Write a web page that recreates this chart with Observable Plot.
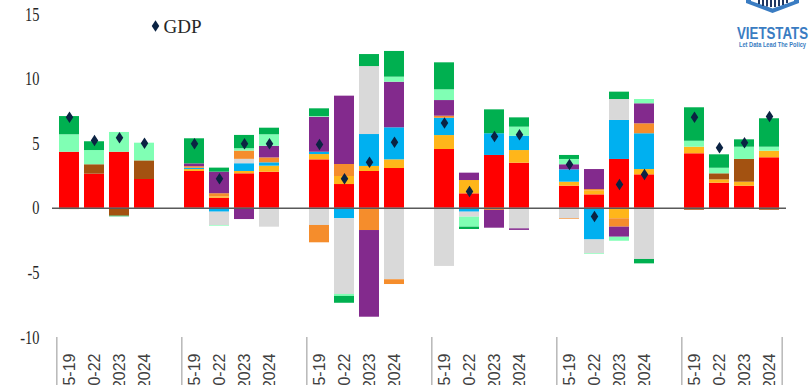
<!DOCTYPE html>
<html>
<head>
<meta charset="utf-8">
<script src="https://cdn.jsdelivr.net/npm/d3@7"></script>
<script src="https://cdn.jsdelivr.net/npm/@observablehq/plot@0.6"></script>
<style>
  html, body { margin: 0; padding: 0; background: #fff; }
  #wrap { position: relative; width: 810px; height: 385px; overflow: hidden; }
  #logo { position: absolute; left: 735px; top: 0; }
</style>
</head>
<body>
<div id="wrap">
  <div id="chart"></div>
  <svg id="logo" width="75" height="50" viewBox="735 0 75 50">
    <polygon points="746,-5 746,3 772.5,13 799,3 799,-5" fill="#3A7CC2"/>
    <polygon points="751,-5 751,1 772.5,8.5 794,1 794,-5" fill="#fff"/>
    <g fill="#1F3864">
      <rect x="758" y="0" width="2" height="4"/>
      <rect x="762" y="0" width="2" height="6"/>
      <rect x="766" y="0" width="2" height="6.5"/>
      <rect x="770" y="0" width="2" height="7"/>
      <rect x="774" y="0" width="2" height="7"/>
      <rect x="778" y="0" width="2" height="6"/>
      <rect x="782" y="0" width="2" height="5"/>
      <rect x="786" y="0" width="2" height="3"/>
    </g>
    <text x="772.5" y="39" text-anchor="middle" font-family="Liberation Sans" font-weight="bold" font-size="17" fill="#3A7CC2" textLength="71" lengthAdjust="spacingAndGlyphs">VIETSTATS</text>
    <text x="772.5" y="47" text-anchor="middle" font-family="Liberation Sans" font-weight="bold" font-size="7" fill="#3A7CC2" textLength="67" lengthAdjust="spacingAndGlyphs">Let Data Lead The Policy</text>
  </svg>
</div>
<script>
// ---------- data ----------
const groups = ["Group 1", "Group 2", "Group 3", "Group 4", "Group 5", "Group 6"];
const periods = ["2015-19", "2020-22", "2023", "2024"];
const seriesNames = ["Household consumption", "Stat. discrepancy", "Government consumption", "Exports of goods", "Imports of goods", "Inventories", "Net services", "Other", "Investment"];
const seriesColors = ["#FF0000", "#FFB61A", "#A35211", "#00B0F0", "#D9D9D9", "#F58D2C", "#832A8D", "#80FFB4", "#00B050"];
// order of series values below follows seriesNames; 24 bars = 6 groups x 4 periods
const red    = [4.34, 2.64, 4.34, 2.23,  2.85, 0.78, 2.67, 2.79,  3.75, 1.84, 2.85, 3.08,  4.55, 1.12, 4.09, 3.49,  1.71, 1.04, 3.78, 2.59,  4.22, 1.94, 1.71, 3.91];
const yellow = [0, 0, 0, 0,  0.15, 0.10, 0.18, 0.47,  0.41, 0.62, 0.39, 0.67,  1.08, 1.03, -0.06, 0.98,  0.31, 0.31, -0.81, 0.41,  0.51, 0.26, 0.31, 0.51];
const brown  = [-0.10, 0.73, -0.61, 1.44,  0, 0, 0, 0,  0, 0, 0, 0,  0, 0, 0, 0,  0, 0, 0, 0,  -0.15, 0.47, 1.76, -0.15];
const blue   = [0, 0, 0, 0,  0.10, -0.30, 0.60, 0.26,  0.18, -0.81, 2.47, 2.48,  1.34, -0.30, 1.68, 1.11,  0.96, -2.45, 3.02, 2.77,  0, 0, 0, 0];
const gray   = [0, 0, 0, 0,  0, -1.03, 0.34, -1.46,  -1.33, -5.86, 5.26, -5.53,  -4.50, -0.39, 0, -1.59,  -0.81, -1.07, 1.62, -3.96,  0, 0, 0, 0];
const orange = [0, 0, 0, 0,  0.12, 0.25, 0.64, 0.38,  -1.34, 0.93, -1.72, -0.37,  0.16, 0, -0.10, 0,  -0.05, 0.10, -0.65, 0.77,  0, 0, 0, 0];
const purple = [0, 0, 0, 0,  0.22, 1.67, -0.87, 0.90,  2.71, 5.29, -6.71, 3.53,  1.21, 0.57, -1.38, -0.12,  0.39, 1.55, -0.78, 1.55,  0, 0, 0, 0];
const mint   = [1.35, 1.10, 1.53, 1.37,  -0.05, -0.05, 0.18, 0.89,  0.05, -0.15, 0, 0.39,  0.83, -0.77, 0, 0.70,  0.41, -0.05, -0.31, 0.33,  0.46, 0.43, 0.95, 0.31];
const green  = [1.41, 0.68, -0.05, 0,  1.94, 0.31, 1.03, 0.51,  0.60, -0.53, 0.93, 1.99,  2.09, -0.18, 1.85, 0.72,  0.31, 0, 0.57, -0.34,  2.59, 1.04, 0.57, 2.20];
const gdp    = [7.05, 5.25, 5.46, 5.04,  4.99, 2.28, 4.99, 5.00,  4.94, 2.28, 3.57, 5.12,  6.60, 1.30, 5.56, 5.69,  3.39, -0.63, 1.84, 2.62,  7.05, 4.68, 5.07, 7.10];
const yTicks = [-10, -5, 0, 5, 10, 15];

// ---------- build tables ----------
const keys = [];
groups.forEach((g, gi) => {
  periods.forEach(p => keys.push(`${g}|${p}`));
  if (gi < groups.length - 1) keys.push(`${g}|gap`);
});
const barKeys = keys.filter(k => !k.endsWith("|gap"));
const seriesData = [red, yellow, brown, blue, gray, orange, purple, mint, green];
const rows = [];
seriesData.forEach((vals, si) => vals.forEach((v, i) => {
  if (v !== 0) rows.push({key: barKeys[i], series: seriesNames[si], value: v});
}));
const gdpRows = gdp.map((v, i) => ({key: barKeys[i], value: v}));
const firstKeys = groups.map(g => `${g}|${periods[0]}`);
const lastKeys = [barKeys[barKeys.length - 1]];

const W = 810, H = 385, ML = 52, MR = 24, MT = 14, MB = 48;
const step = (W - ML - MR) / keys.length;
const navy = "#0B2343";

const tallDiamond = {
  draw(context, size) {
    const r = Math.sqrt(size / Math.PI);
    const h = r * 1.15, w = r * 0.75;
    context.moveTo(0, -h);
    context.lineTo(w, 0);
    context.lineTo(0, h);
    context.lineTo(-w, 0);
    context.closePath();
  }
};

const chart = Plot.plot({
  width: W, height: H,
  marginLeft: ML, marginRight: MR, marginTop: MT, marginBottom: MB,
  style: {background: "white", overflow: "hidden"},
  x: {type: "band", domain: keys, paddingInner: 0.22, paddingOuter: 0.11, label: null},
  y: {domain: [-10, 15], label: null},
  color: {domain: seriesNames, range: seriesColors},
  marks: [
    Plot.barY(rows, {x: "key", y: "value", fill: "series"}),
    Plot.ruleY([0], {stroke: "#595959", strokeWidth: 1.4}),
    Plot.dot(gdpRows, {x: "key", y: "value", symbol: tallDiamond, r: 5, fill: navy, stroke: null}),
    Plot.axisY(yTicks, {label: null, tickSize: 0, tickPadding: 13, tickFormat: d => String(d), fontSize: 19, fontFamily: "Liberation Serif", fill: "#262626"}),
    Plot.axisX(barKeys, {label: null, tickSize: 0, tickPadding: 16, tickRotate: -90, tickFormat: k => k.split("|")[1], fontSize: 16, fontFamily: "Liberation Sans", fill: "#404040"}),
    Plot.axisX(firstKeys, {label: null, tickSize: 48, tickFormat: () => "", dx: -step / 2, stroke: "#A6A6A6", strokeWidth: 1.2}),
    Plot.axisX(lastKeys, {label: null, tickSize: 48, tickFormat: () => "", dx: step / 2, stroke: "#A6A6A6", strokeWidth: 1.2}),
    // legend
    Plot.dot(["GDP"], {frameAnchor: "top-left", dx: 103, dy: 11.5, symbol: tallDiamond, r: 5, fill: navy, stroke: null}),
    Plot.text(["GDP"], {frameAnchor: "top-left", dx: 111, dy: 12, textAnchor: "start", lineAnchor: "middle", fontSize: 19, fontFamily: "Liberation Serif", fill: "#262626", ariaLabel: "legend label"})
  ]
});
document.getElementById("chart").appendChild(chart);

// horizontally condensed serif labels, as in the reference
d3.select(chart)
  .selectAll('g[aria-label="y-axis tick label"] text, g[aria-label="legend label"] text')
  .each(function() {
    const t = this.getAttribute("transform") || "";
    this.setAttribute("transform", t + " scale(0.76,1)");
  });
</script>
</body>
</html>
